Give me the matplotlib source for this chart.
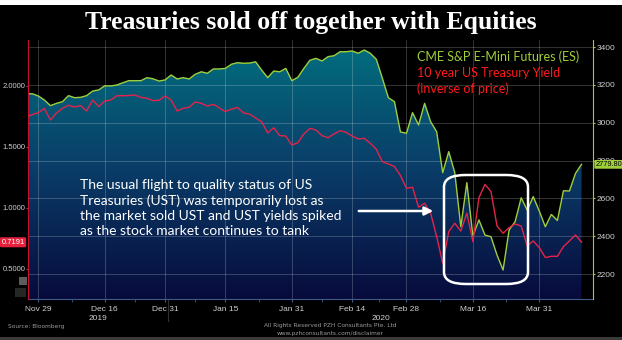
import matplotlib
matplotlib.use('Agg')
import matplotlib.pyplot as plt
import matplotlib.transforms as mtransforms
from matplotlib.patches import Polygon, FancyBboxPatch, Rectangle
from matplotlib.colors import LinearSegmentedColormap
import numpy as np
import pandas as pd

# trading days (bond market holidays left out)
holidays = ['2019-11-28', '2019-12-25', '2020-01-01', '2020-01-20', '2020-02-17']
dates = pd.bdate_range('2019-11-26', '2020-04-09', freq='C', holidays=holidays)

# CME S&P E-mini futures (right axis)
es = [3152, 3153, 3141, 3120, 3090, 3102, 3111, 3143, 3132, 3134,
      3143, 3167, 3173, 3195, 3194, 3199, 3211, 3222, 3222, 3222,
      3238, 3232, 3220, 3226, 3252, 3231, 3238, 3231, 3256, 3269,
      3261, 3284, 3284, 3287, 3309, 3317, 3314, 3315, 3322, 3278,
      3238, 3273, 3269, 3287, 3222, 3240, 3287, 3330, 3340, 3326,
      3349, 3354, 3375, 3375, 3379, 3367, 3384, 3367, 3335, 3235,
      3132, 3111, 2951, 2944, 3053, 2988, 3102, 3005, 2952, 2736,
      2847, 2736, 2450, 2683, 2401, 2486, 2406, 2397, 2300, 2221,
      2433, 2477, 2603, 2538, 2609, 2533, 2450, 2515, 2483, 2640,
      2639, 2732, 2779.80]

# 10 year US Treasury yield (left axis)
ust = [1.746, 1.766, 1.781, 1.816, 1.721, 1.779, 1.817, 1.842, 1.828, 1.840,
       1.795, 1.885, 1.832, 1.877, 1.885, 1.920, 1.920, 1.922, 1.926, 1.907,
       1.899, 1.880, 1.883, 1.918, 1.885, 1.795, 1.817, 1.826, 1.869, 1.858,
       1.836, 1.850, 1.820, 1.789, 1.811, 1.824, 1.779, 1.770, 1.738, 1.707,
       1.615, 1.658, 1.593, 1.590, 1.516, 1.535, 1.607, 1.653, 1.639, 1.593,
       1.576, 1.607, 1.634, 1.620, 1.590, 1.566, 1.571, 1.530, 1.481, 1.380,
       1.361, 1.340, 1.266, 1.161, 1.170, 1.006, 1.039, 0.957, 0.765, 0.547,
       0.806, 0.875, 0.811, 0.957, 0.724, 1.084, 1.194, 1.134, 0.852, 0.793,
       0.839, 0.869, 0.852, 0.689, 0.730, 0.675, 0.594, 0.604, 0.604, 0.683,
       0.730, 0.779, 0.7191]

tick_dates = ['2019-11-29', '2019-12-16', '2019-12-31', '2020-01-15', '2020-01-31',
              '2020-02-14', '2020-02-28', '2020-03-16', '2020-03-31']
es_ticks = [2200, 2400, 2600, 2800, 3000, 3200, 3400]
ust_ticks = [0.5, 1.0, 1.5, 2.0]

GREEN = '#9fcf3a'
RED = '#e3234b'
SMALL = 'Liberation Sans'
FS = 6
W, H = 622, 340


def fx(px):
    return px / W


def fy(py):
    return 1 - py / H


x = np.arange(len(dates))
tick_pos = dates.get_indexer(pd.to_datetime(tick_dates))

fig = plt.figure(figsize=(6.22, 3.40), dpi=100, facecolor='black')
fig.patches.append(Rectangle((0, fy(5)), 1, 5 / H, transform=fig.transFigure,
                             facecolor='white', edgecolor='none'))
fig.patches.append(Rectangle((0, 0), 1, 3 / H, transform=fig.transFigure,
                             facecolor='#3a3a3a', edgecolor='none'))
# little chart widget buttons at the lower left
fig.patches.append(Rectangle((fx(19), fy(285)), 8 / W, 8 / H, transform=fig.transFigure,
                             facecolor='#5c5c5c', edgecolor='none'))
fig.patches.append(Rectangle((fx(15), fy(297)), 11 / W, 9 / H, transform=fig.transFigure,
                             facecolor='#262626', edgecolor='none'))

ax = fig.add_axes([fx(28), fy(299), fx(593) - fx(28), fy(40) - fy(299)])
ax2 = ax.twinx()
ax.set_facecolor('black')
ax.set_xlim(0.29, 93.9)
ax.set_ylim(2068, 3437)
ax2.set_ylim(0.254, 2.377)

# gradient area under the ES line
cmap = LinearSegmentedColormap.from_list('bbg', ['#070b3c', '#0a3c68', '#02707f'])
grad = np.linspace(0, 1, 256).reshape(-1, 1)
im = ax.imshow(grad, cmap=cmap, aspect='auto', origin='lower',
               extent=[x[0], x[-1], 2068, 3437], zorder=1)
verts = [(x[0], 2068)] + list(zip(x, es)) + [(x[-1], 2068)]
clip = Polygon(verts, closed=True, fill=False, lw=0, transform=ax.transData)
ax.add_patch(clip)
im.set_clip_path(clip)
ax.plot(x, es, color=GREEN, lw=1.0, zorder=3)
ax2.plot(x, ust, color=RED, lw=1.0, zorder=3)

# right axis: ES
ax.yaxis.tick_right()
ax.set_yticks(es_ticks)
ax.set_yticklabels([str(v) for v in es_ticks], family=SMALL)
ax.tick_params(axis='y', colors=GREEN, labelcolor='#cfcfcf', labelsize=FS,
               length=1.5, width=0.8, pad=1)
ax.set_xticks(tick_pos)
ax.set_xticklabels([pd.Timestamp(d).strftime('%b %d') for d in tick_dates], family=SMALL)
ax.set_xticks((tick_pos[:-1] + tick_pos[1:]) / 2, minor=True)
ax.tick_params(axis='x', which='both', colors='#3d5a88', labelcolor='#d0d0d0',
               labelsize=FS, length=2, pad=3)
ax.set_axisbelow(False)
ax.grid(True, which='major', color='white', alpha=0.2, lw=0.7)
for s in ax.spines.values():
    s.set_visible(False)
ax.spines['bottom'].set_visible(True)
ax.spines['bottom'].set_color('#3d5a88')

# left axis: 10y yield
ax2.yaxis.tick_left()
ax2.set_yticks(ust_ticks)
ax2.set_yticklabels([f'{v:.4f}' for v in ust_ticks], family=SMALL)
ax2.tick_params(axis='y', colors=RED, labelcolor='#cfcfcf', labelsize=5.5,
                length=1.5, width=0.8, pad=0.5)
for s in ax2.spines.values():
    s.set_visible(False)
ax2.spines['left'].set_visible(True)
ax2.spines['left'].set_color('#c8102e')
ax2.spines['right'].set_visible(True)
ax2.spines['right'].set_color(GREEN)

# last value tags
tl = mtransforms.blended_transform_factory(ax2.transAxes, ax2.transData)
ax2.text(-0.006, ust[-1], f'{ust[-1]:.4f}', transform=tl, ha='right', va='center',
         fontsize=5.5, color='white', clip_on=False, family=SMALL,
         bbox=dict(boxstyle='round,pad=0.2', fc='#e8203c', ec='none'))
tr = mtransforms.blended_transform_factory(ax.transAxes, ax.transData)
ax.text(1.004, es[-1], f'{es[-1]:.2f}', transform=tr, ha='left', va='center',
        fontsize=5.3, color='black', clip_on=False, family=SMALL, zorder=6,
        bbox=dict(boxstyle='round,pad=0.12', fc=GREEN, ec='none'))

# year labels under the date ticks
year_edge = dates.get_indexer(pd.to_datetime(['2020-01-02']))[0] - 0.5
trx = mtransforms.blended_transform_factory(ax.transData, fig.transFigure)
ax.text((0.29 + year_edge) / 2, fy(319), '2019', transform=trx, ha='center',
        va='center', fontsize=FS, color='#d0d0d0', clip_on=False, family=SMALL)
ax.text((year_edge + 93.9) / 2, fy(319), '2020', transform=trx, ha='center',
        va='center', fontsize=FS, color='#d0d0d0', clip_on=False, family=SMALL)
ax.plot([year_edge, year_edge], [fy(299), fy(321)], transform=trx, color='#303030',
        lw=0.8, clip_on=False)

# title and notes
fig.text(0.5, fy(23), 'Treasuries sold off together with Equities', ha='center',
         va='center', color='white', fontsize=18.5, fontweight='bold',
         family='Liberation Serif')
fig.text(fx(417), fy(57), 'CME S&P E-Mini Futures (ES)', color=GREEN, fontsize=9,
         family='Lato', va='center')
fig.text(fx(417), fy(73), '10 year US Treasury Yield', color='#ff1a1a', fontsize=9,
         family='Lato', va='center')
fig.text(fx(417), fy(89), '(inverse of price)', color='#ff1a1a', fontsize=9,
         family='Lato', va='center')
fig.text(fx(80), fy(179),
         'The usual flight to quality status of US\n'
         'Treasuries (UST) was temporarily lost as\n'
         'the market sold UST and UST yields spiked\n'
         'as the stock market continues to tank',
         color='white', fontsize=10, family='Lato', va='top', linespacing=1.3)
ax2.annotate('', xy=(fx(436), fy(211)), xytext=(fx(356), fy(211)),
             xycoords='figure fraction', textcoords='figure fraction',
             arrowprops=dict(arrowstyle='-|>,head_length=0.5,head_width=0.25',
                             color='white', lw=1.8))
fig.patches.append(FancyBboxPatch((fx(444), fy(284)), fx(528) - fx(444),
                                  fy(175) - fy(284), transform=fig.transFigure,
                                  boxstyle='round,pad=0,rounding_size=0.035',
                                  fill=False, ec='white', lw=1.8, zorder=5))

fig.text(fx(8), fy(328), 'Source: Bloomberg', color='#9a9a9a', fontsize=4.2)
fig.text(fx(330), fy(325), 'All Rights Reserved PZH Consultants Pte. Ltd',
         color='#9a9a9a', fontsize=4.2, ha='center', va='center')
fig.text(fx(330), fy(333), 'www.pzhconsultants.com/disclaimer',
         color='#9a9a9a', fontsize=4.2, ha='center', va='center')

fig.savefig('out.png', dpi=100, facecolor='black')
